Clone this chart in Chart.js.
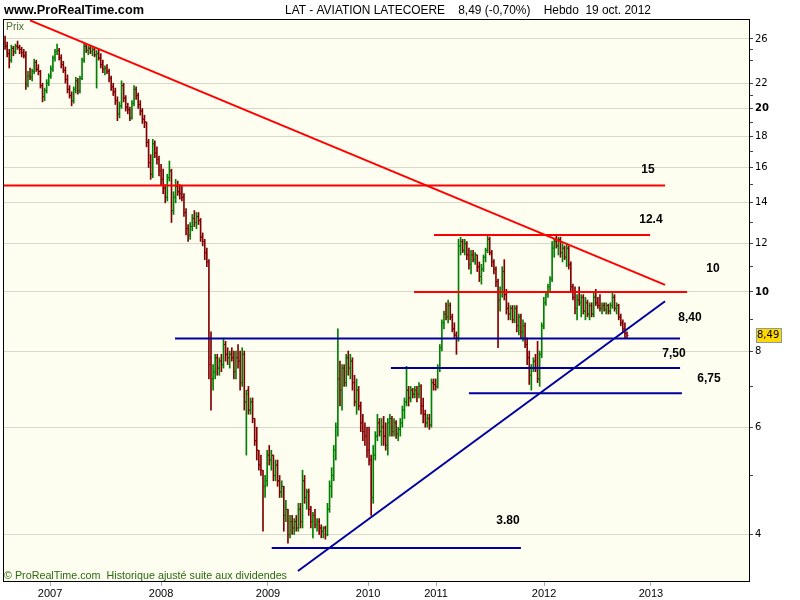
<!DOCTYPE html>
<html>
<head>
<meta charset="utf-8">
<script src="https://cdn.jsdelivr.net/npm/chart.js@4.4.1/dist/chart.umd.min.js"></script>
<style>
  html, body { margin: 0; padding: 0; background: #fff; }
  #wrap { width: 800px; height: 600px; position: relative; }
</style>
</head>
<body>
<div id="wrap"><canvas id="chart" width="800" height="600"></canvas></div>
<script>
// Hebdo LAT - AVIATION LATECOERE, barres OHLC (une par semaine)
const opens = [
  25.6,25.3,24.6,24.0,25.1,24.8,25.3,25.2,25.0,24.7,
  24.4,21.9,22.6,22.5,23.0,23.8,23.2,23.0,21.8,20.9,
  21.4,22.0,22.6,23.2,24.2,24.8,24.9,24.2,23.6,23.1,
  22.3,21.5,21.0,20.6,21.5,22.2,21.4,22.4,24.0,25.3,
  24.9,25.1,24.8,25.0,24.5,24.6,24.2,23.6,23.2,23.3,
  23.0,22.4,21.7,21.3,20.6,19.6,20.2,21.8,20.8,20.1,
  19.9,19.3,20.4,21.5,21.0,20.3,19.8,19.2,19.0,17.6,
  16.3,15.6,17.5,16.9,16.5,15.8,15.3,14.8,14.3,15.4,
  15.8,13.6,14.3,14.9,14.6,14.5,14.3,13.5,12.7,12.4,
  12.8,13.2,13.0,13.3,13.1,12.3,12.1,11.6,11.2,7.8,
  7.2,7.4,7.8,7.5,7.7,7.6,8.2,7.9,7.8,7.9,
  7.8,7.4,7.8,7.7,7.1,7.9,6.6,6.9,6.4,6.6,
  6.2,5.7,5.5,5.2,5.1,4.8,4.9,5.4,5.3,5.4,
  5.0,5.2,4.9,4.7,4.8,4.3,4.4,4.0,4.2,4.1,
  4.2,4.1,4.4,4.2,4.9,4.6,4.7,4.4,4.2,4.3,
  4.15,4.2,4.1,4.05,4.1,4.0,4.4,4.8,5.0,5.5,
  6.0,7.2,6.9,7.5,7.1,7.8,7.5,7.7,7.1,6.6,
  6.9,6.5,6.1,5.9,5.8,5.5,5.3,4.6,5.4,5.8,
  6.1,5.9,6.0,5.8,5.6,6.1,6.2,5.9,6.1,5.85,
  5.95,6.1,6.4,6.6,6.9,6.7,6.9,6.8,6.9,6.8,
  7.0,6.5,6.3,6.1,6.2,6.05,7.1,7.05,7.0,7.5,
  8.1,8.9,9.2,9.1,9.5,9.1,8.7,8.5,8.4,11.9,
  12.1,11.7,12.0,11.5,11.1,11.5,11.3,11.5,11.0,10.6,
  10.9,11.4,11.7,12.2,11.6,11.2,10.9,10.4,9.7,10.0,
  10.8,9.9,9.4,9.2,9.4,9.0,9.4,8.8,9.1,8.6,
  8.8,8.2,7.8,7.3,7.5,7.7,7.5,7.2,7.9,8.8,
  9.6,9.9,10.2,10.5,11.8,12.1,11.9,12.2,11.6,11.8,
  11.4,11.8,11.1,10.2,9.8,9.4,9.7,9.6,9.8,9.3,
  9.6,9.2,9.5,9.2,9.8,9.6,9.5,9.4,9.5,9.35,
  9.5,9.3,9.5,9.8,9.4,9.5,9.1,8.9,8.7,8.55
];
const highs = [
  26.3,25.7,25.0,25.4,25.3,25.5,25.8,25.4,25.2,25.0,
  24.8,23.0,23.3,23.2,24.1,24.0,23.6,23.1,22.0,21.6,
  22.3,22.8,23.5,24.4,25.0,25.5,25.1,24.5,23.9,23.4,
  22.7,21.8,21.3,21.7,22.5,22.4,22.6,24.2,25.6,25.5,
  25.3,25.3,25.2,25.1,24.9,25.0,24.6,24.0,23.5,23.6,
  23.2,22.6,22.0,21.6,20.9,20.5,22.2,22.0,21.0,20.4,
  20.1,20.6,21.8,21.7,21.2,20.6,20.0,19.5,19.0,17.8,
  16.8,17.8,17.7,17.3,16.7,16.2,15.9,15.0,15.6,16.4,
  15.9,14.6,15.3,15.2,15.0,14.9,14.5,13.7,12.9,13.0,
  13.4,13.6,13.5,13.5,13.2,12.5,12.2,11.8,11.3,8.6,
  7.6,7.9,7.9,7.8,7.9,8.4,8.3,8.1,8.0,8.1,
  8.0,8.0,8.2,8.0,8.1,8.0,6.9,7.0,6.7,6.7,
  6.2,6.0,5.5,5.4,5.1,5.0,5.5,5.6,5.5,5.4,
  5.3,5.3,5.0,4.9,4.8,4.55,4.4,4.3,4.3,4.25,
  4.3,4.5,4.5,5.1,5.0,4.75,4.75,4.45,4.35,4.4,
  4.25,4.25,4.15,4.12,4.13,4.5,4.9,5.15,5.6,6.1,
  8.7,7.7,7.6,7.6,7.9,8.0,7.9,7.8,7.3,7.2,
  7.0,6.6,6.3,6.1,6.0,6.0,5.4,5.6,5.9,6.3,
  6.2,6.2,6.25,6.1,6.2,6.3,6.25,6.2,6.15,6.0,
  6.2,6.5,6.7,7.55,7.0,7.0,6.95,7.0,7.0,7.1,
  7.05,6.7,6.4,6.3,6.3,7.2,7.2,7.2,7.6,8.2,
  9.0,9.3,9.6,9.7,9.6,9.2,8.9,8.6,12.2,12.3,
  12.2,12.2,12.1,11.8,11.7,11.7,11.6,11.5,11.2,11.1,
  11.5,11.8,12.4,12.3,11.7,11.3,11.0,10.5,10.2,11.0,
  11.3,10.1,9.6,9.5,9.5,9.5,9.5,9.2,9.2,9.0,
  8.9,8.4,8.0,7.6,7.8,7.9,8.3,8.0,8.9,9.8,
  10.0,10.3,10.6,12.1,12.2,12.4,12.3,12.3,12.0,11.9,
  12.0,11.9,11.2,10.3,10.2,9.9,10.2,9.9,9.9,9.8,
  9.7,9.6,9.6,10.0,10.1,9.8,9.9,9.6,9.6,9.6,
  9.55,9.6,10.0,9.9,9.6,9.55,9.2,9.0,8.9,8.6
];
const lows = [
  25.0,24.3,23.3,23.8,24.4,24.6,25.0,24.6,24.3,24.2,
  21.5,21.7,22.3,22.2,22.8,23.0,22.7,21.6,20.5,20.6,
  21.2,21.8,22.4,23.0,23.9,24.5,24.0,23.3,22.9,22.0,
  21.2,20.8,20.2,20.4,21.2,21.1,21.2,22.3,23.8,24.7,
  24.5,24.6,24.4,24.3,21.6,24.0,23.3,22.9,22.7,22.8,
  22.1,21.4,21.0,20.3,19.1,19.3,20.0,20.5,19.8,19.6,
  19.1,19.2,20.2,20.7,20.0,19.5,18.9,18.6,17.3,16.0,
  15.3,15.4,16.6,16.2,15.5,15.0,14.5,14.0,14.1,15.2,
  13.0,13.4,14.0,14.4,14.2,14.1,13.3,12.4,12.1,12.2,
  12.6,12.8,12.7,12.9,12.1,11.9,11.3,11.0,7.2,6.4,
  6.9,7.2,7.3,7.3,7.4,7.5,7.7,7.6,7.5,7.7,
  7.2,7.2,7.5,6.9,7.0,6.4,5.4,6.3,6.3,6.1,
  5.6,5.3,5.1,5.0,4.05,4.6,4.8,5.2,5.1,4.9,
  4.9,4.8,4.6,4.6,4.05,4.2,3.87,3.95,4.0,4.0,
  4.05,4.05,4.1,4.1,4.5,4.4,4.3,4.1,3.95,4.1,
  4.05,4.0,3.95,3.95,3.93,3.98,4.35,4.6,4.9,5.3,
  5.8,6.5,6.4,7.0,7.0,7.3,7.2,6.9,6.5,6.3,
  6.4,5.9,5.7,5.6,5.35,5.2,4.3,4.5,5.3,5.7,
  5.8,5.6,5.6,5.5,5.4,5.8,5.8,5.8,5.75,5.7,
  5.8,6.0,6.2,6.5,6.5,6.6,6.7,6.7,6.6,6.7,
  6.3,6.1,6.0,6.0,5.95,6.0,6.9,6.9,6.95,7.4,
  8.0,8.7,9.0,8.9,9.0,8.6,8.4,7.9,8.3,11.5,
  11.6,11.5,11.3,10.9,10.7,11.2,11.1,10.8,10.4,10.3,
  10.8,11.2,11.6,11.5,11.0,10.7,10.2,8.1,9.3,9.8,
  9.7,9.2,9.0,9.0,8.9,8.9,8.6,8.5,8.4,8.3,
  8.1,7.6,7.05,6.9,7.4,7.4,7.1,7.0,7.8,8.7,
  9.5,9.8,10.0,10.4,11.4,11.8,11.5,11.4,11.2,11.3,
  11.0,10.9,10.0,9.7,9.2,9.0,9.5,9.1,9.2,9.0,
  9.1,9.0,9.1,9.1,9.5,9.4,9.3,9.2,9.3,9.2,
  9.2,9.2,9.4,9.3,9.2,9.0,8.8,8.6,8.4,8.4
];
const closes = [
  25.3,24.6,24.0,25.1,24.8,25.3,25.2,25.0,24.7,24.4,
  21.9,22.6,22.5,23.0,23.8,23.2,23.0,21.8,20.9,21.4,
  22.0,22.6,23.2,24.2,24.8,24.9,24.2,23.6,23.1,22.3,
  21.5,21.0,20.6,21.5,22.2,21.4,22.4,24.0,25.3,24.9,
  25.1,24.8,25.0,24.5,24.6,24.2,23.6,23.2,23.3,23.0,
  22.4,21.7,21.3,20.6,19.6,20.2,21.8,20.8,20.1,19.9,
  19.3,20.4,21.5,21.0,20.3,19.8,19.2,19.0,17.6,16.3,
  15.6,17.5,16.9,16.5,15.8,15.3,14.8,14.3,15.4,15.8,
  13.6,14.3,14.9,14.6,14.5,14.3,13.5,12.7,12.4,12.8,
  13.2,13.0,13.3,13.1,12.3,12.1,11.6,11.2,7.6,7.2,
  7.4,7.8,7.5,7.7,7.6,8.2,7.9,7.8,7.9,7.8,
  7.4,7.8,7.7,7.1,7.9,6.6,6.8,6.4,6.6,6.2,
  5.7,5.5,5.2,5.1,4.8,4.9,5.4,5.3,5.4,5.0,
  5.2,4.9,4.7,4.8,4.3,4.4,4.0,4.2,4.1,4.2,
  4.1,4.4,4.2,4.9,4.6,4.7,4.4,4.2,4.3,4.15,
  4.2,4.1,4.05,4.1,4.0,4.4,4.8,5.0,5.5,6.0,
  7.2,6.9,7.5,7.1,7.8,7.5,7.7,7.1,6.6,6.9,
  6.5,6.1,5.9,5.8,5.5,5.3,4.6,5.4,5.8,6.1,
  5.9,6.0,5.8,5.6,6.1,6.2,5.9,6.1,5.85,5.95,
  6.1,6.4,6.6,6.9,6.7,6.9,6.8,6.9,6.8,7.0,
  6.5,6.3,6.1,6.2,6.05,7.1,7.05,7.0,7.5,8.1,
  8.9,9.2,9.1,9.5,9.1,8.7,8.5,8.4,11.9,12.1,
  11.7,12.0,11.5,11.1,11.5,11.3,11.5,11.0,10.6,10.9,
  11.4,11.7,12.2,11.6,11.2,10.9,10.4,9.7,10.0,10.8,
  9.9,9.4,9.2,9.4,9.0,9.4,8.8,9.1,8.6,8.8,
  8.2,7.8,7.3,7.5,7.7,7.5,7.2,7.9,8.8,9.6,
  9.9,10.2,10.5,11.8,12.1,11.9,12.2,11.6,11.8,11.4,
  11.8,11.1,10.2,9.8,9.4,9.7,9.6,9.8,9.3,9.6,
  9.2,9.5,9.2,9.8,9.6,9.5,9.4,9.5,9.35,9.5,
  9.3,9.5,9.8,9.4,9.5,9.1,8.9,8.7,8.55,8.49
];

// axe des temps : position (en nombre de semaines) des changements d'année
const yearTicks  = [21.6, 75.0, 126.4, 174.5, 207.2, 259.1, 310.5];
const yearLabels = ["2007", "2008", "2009", "2010", "2011", "2012", "2013"];

// axe des prix (log)
const priceTicks  = [4, 5, 6, 7, 8, 9, 10, 11, 12, 13, 14, 15, 16, 17, 18, 19, 20, 21, 22, 24, 25, 26];
const priceLabels = [4, 6, 8, 10, 12, 14, 16, 18, 20, 22, 26];
const boldLabels  = [10, 20];

// tracés : [semaine, prix] début -> fin
const redLines = [
  [[12, 27.9], [317.3, 10.27]],
  [[-1, 14.95], [317.3, 14.95]],
  [[206.2, 12.4], [310.1, 12.4]],
  [[196.6, 10.0], [327.9, 10.0]]
];
const blueLines = [
  [[81.7, 8.39], [324.5, 8.39]],
  [[185.5, 7.5], [324.5, 7.5]],
  [[223.0, 6.82], [325.4, 6.82]],
  [[128.2, 3.8], [248.0, 3.8]],
  [[140.8, 3.485], [317.3, 9.655]]
];
const levelTexts  = ["15", "12.4", "10", "8,40", "7,50", "6,75", "3.80"];
const levelWeeks  = [309.1, 310.5, 340.3, 329.3, 321.6, 338.4, 241.8];
const levelPrices = [15.85, 13.13, 10.9, 9.07, 7.91, 7.2, 4.21];

const COLORS = {
  up:      "#008000",
  down:    "#800000",
  red:     "#ff0000",
  blue:    "#0000a0",
  plotBg:  "#fdfdf0",
  grid:    "#d8d8cc",
  footer:  "#2b6a12",
  prix:    "#4a6a38",
  tag:     "#ffd800",
};

const weeks = closes.map((c, i) => i);
const barColors = closes.map((c, i) => (c >= opens[i] ? COLORS.up : COLORS.down));

function lineSet(pts, color) {
  return {
    type: "line",
    data: pts.map((p) => ({ x: p[0], y: p[1] })),
    borderColor: color,
    borderWidth: 2,
    pointRadius: 0,
    pointHoverRadius: 0,
    order: 0,
  };
}

function fitText(ctx, text, x, y, w, font, color) {
  ctx.save();
  ctx.font = font;
  const m = ctx.measureText(text).width;
  ctx.translate(x, y);
  ctx.scale(w / m, 1);
  ctx.fillStyle = color;
  ctx.textAlign = "left";
  ctx.textBaseline = "alphabetic";
  ctx.fillText(text, 0, 0);
  ctx.restore();
}

const framePlugin = {
  id: "frame",
  beforeDraw(chart) {
    const { ctx, chartArea: a } = chart;
    ctx.save();
    ctx.fillStyle = "#fff";
    ctx.fillRect(0, 0, chart.width, chart.height);
    ctx.fillStyle = COLORS.plotBg;
    ctx.fillRect(a.left, a.top, a.right - a.left, a.bottom - a.top);
    ctx.restore();
  },
  afterDraw(chart) {
    const { ctx, chartArea: a } = chart;
    const xs = chart.scales.x, ys = chart.scales.y;
    ctx.save();
    ctx.strokeStyle = "#000";
    ctx.lineWidth = 1;
    ctx.strokeRect(a.left + 0.5, a.top + 0.5, a.right - a.left, a.bottom - a.top);

    // niveaux
    ctx.font = "bold 12px 'Liberation Sans', Arial, sans-serif";
    ctx.fillStyle = "#000";
    ctx.textAlign = "center";
    ctx.textBaseline = "middle";
    levelTexts.forEach((t, i) => {
      ctx.fillText(t, xs.getPixelForValue(levelWeeks[i]), ys.getPixelForValue(levelPrices[i]));
    });

    // dernier cours
    const last = closes[closes.length - 1];
    const yp = Math.round(ys.getPixelForValue(last));
    ctx.fillStyle = COLORS.tag;
    ctx.fillRect(a.right + 7, yp - 7, 25, 14);
    ctx.strokeStyle = "#8a9aaa";
    ctx.strokeRect(a.right + 7.5, yp - 6.5, 25, 14);
    ctx.fillStyle = "#000";
    ctx.font = "10px 'DejaVu Sans', sans-serif";
    ctx.textAlign = "left";
    ctx.fillText(last.toFixed(2).replace(".", ","), a.right + 8, yp + 0.5);
    ctx.restore();

    // textes
    fitText(ctx, "www.ProRealTime.com", 4, 14, 140, "bold 13px 'Liberation Sans', Arial, sans-serif", "#000");
    fitText(ctx, "LAT - AVIATION LATECOERE    8,49 (-0,70%)    Hebdo  19 oct. 2012", 285, 14, 366,
      "13px 'Liberation Sans', Arial, sans-serif", "#000");
    fitText(ctx, "Prix", 6, 30, 18, "11px 'Liberation Sans', Arial, sans-serif", COLORS.prix);
    fitText(ctx, "\u00a9 ProRealTime.com  Historique ajusté suite aux dividendes", 4, 579, 283,
      "11px 'Liberation Sans', Arial, sans-serif", COLORS.footer);
  },
};

new Chart(document.getElementById("chart"), {
  type: "bar",
  data: {
    datasets: [
      ...redLines.map((l) => lineSet(l, COLORS.red)),
      ...blueLines.map((l) => lineSet(l, COLORS.blue)),
      {
        type: "scatter",
        data: weeks.map((i) => ({ x: i - 0.45, y: opens[i] })),
        pointStyle: "line",
        pointRadius: 0.6,
        pointHoverRadius: 0.6,
        pointBorderWidth: 1,
        pointBorderColor: barColors,
        order: 1,
      },
      {
        type: "scatter",
        data: weeks.map((i) => ({ x: i + 0.45, y: closes[i] })),
        pointStyle: "line",
        pointRadius: 0.6,
        pointHoverRadius: 0.6,
        pointBorderWidth: 1,
        pointBorderColor: barColors,
        order: 1,
      },
      {
        type: "bar",
        data: weeks.map((i) => ({ x: i, y: [lows[i], highs[i]] })),
        backgroundColor: barColors,
        borderWidth: 0,
        barThickness: 1,
        grouped: false,
        order: 2,
      },
    ],
  },
  options: {
    responsive: false,
    animation: false,
    events: [],
    layout: { padding: { left: 3, top: 19, right: 0, bottom: 0 } },
    plugins: { legend: { display: false }, tooltip: { enabled: false } },
    scales: {
      x: {
        type: "linear",
        min: -1,
        max: 357.65,
        offset: false,
        afterFit: (s) => { s.height = 19; },
        afterBuildTicks: (s) => { s.ticks = yearTicks.map((v) => ({ value: v })); },
        ticks: {
          autoSkip: false,
          maxRotation: 0,
          padding: 1,
          color: "#000",
          font: { family: "'Liberation Sans', Arial, sans-serif", size: 11 },
          callback: (v, i) => yearLabels[i],
        },
        grid: { offset: false, drawOnChartArea: false, tickLength: 5, tickColor: "#9fb0c0" },
        border: { color: "#000" },
      },
      y: {
        type: "logarithmic",
        position: "right",
        min: 3.356,
        max: 28.04,
        afterFit: (s) => { s.width = 51; },
        afterBuildTicks: (s) => { s.ticks = priceTicks.map((v) => ({ value: v })); },
        ticks: {
          autoSkip: false,
          padding: 2,
          color: "#000",
          font: (c) => ({
            family: "'DejaVu Sans', sans-serif",
            size: 10,
            weight: c.tick && boldLabels.includes(c.tick.value) ? "bold" : "normal",
          }),
          callback: (v) => (priceLabels.includes(v) ? String(v) : ""),
        },
        grid: {
          color: (c) => (c.tick && priceLabels.includes(c.tick.value) ? COLORS.grid : "rgba(0,0,0,0)"),
          tickColor: "#444",
          tickLength: 4,
        },
        border: { color: "#000" },
      },
    },
  },
  plugins: [framePlugin],
});
</script>
</body>
</html>
